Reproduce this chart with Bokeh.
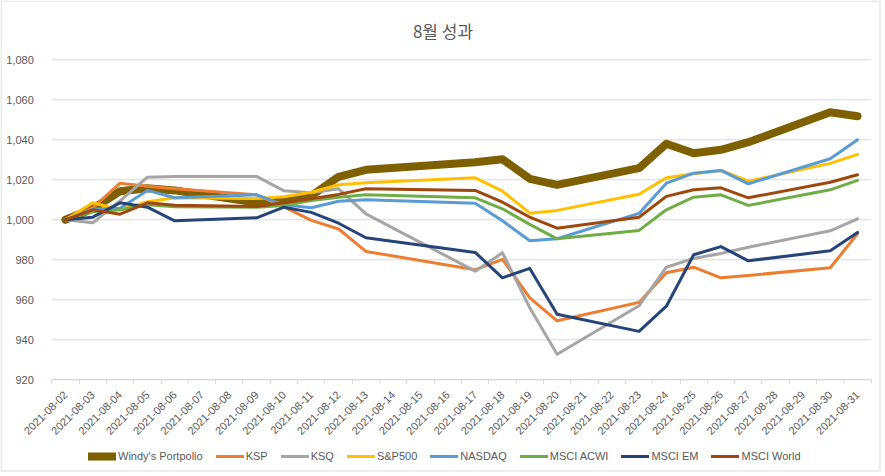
from math import pi
import pandas as pd
from bokeh.plotting import figure
from bokeh.models import (ColumnDataSource, FixedTicker, NumeralTickFormatter,
                          Legend, LegendItem, Range1d, Label)
from bokeh.embed import file_html
from bokeh.resources import INLINE

title_text = "8월 성과"

axis_dates = ["2021-08-02", "2021-08-03", "2021-08-04", "2021-08-05", "2021-08-06",
              "2021-08-07", "2021-08-08", "2021-08-09", "2021-08-10", "2021-08-11",
              "2021-08-12", "2021-08-13", "2021-08-14", "2021-08-15", "2021-08-16",
              "2021-08-17", "2021-08-18", "2021-08-19", "2021-08-20", "2021-08-21",
              "2021-08-22", "2021-08-23", "2021-08-24", "2021-08-25", "2021-08-26",
              "2021-08-27", "2021-08-28", "2021-08-29", "2021-08-30", "2021-08-31"]

trade_dates = ["2021-08-02", "2021-08-03", "2021-08-04", "2021-08-05", "2021-08-06",
               "2021-08-09", "2021-08-10", "2021-08-11", "2021-08-12", "2021-08-13",
               "2021-08-17", "2021-08-18", "2021-08-19", "2021-08-20", "2021-08-23",
               "2021-08-24", "2021-08-25", "2021-08-26", "2021-08-27", "2021-08-30",
               "2021-08-31"]

windy = [1000, 1005.5, 1014.3, 1015.8, 1014.7, 1008.6, 1009, 1012, 1021.5, 1025,
         1028.8, 1030.3, 1020.5, 1017.5, 1025.8, 1038, 1033.3, 1035, 1038.8, 1053.8, 1051.8]
ksp = [1000, 1006, 1018.3, 1016.8, 1015.5, 1012.5, 1006.5, 999.7, 995.4, 984.2,
       975, 980.2, 961, 949.5, 958.7, 973.5, 976.3, 971, 972.2, 976, 993]
ksq = [1000, 998.5, 1009.5, 1021.3, 1021.6, 1021.7, 1014.5, 1013.5, 1015.5, 1003,
       974.3, 983.5, 956, 932.8, 957, 976.3, 980.7, 983.2, 986.3, 994.5, 1000.5]
sp500 = [1000, 1008.5, 1005, 1009, 1011, 1010.7, 1011.5, 1013.8, 1017.5, 1018.5,
         1021, 1014.3, 1003.3, 1004.7, 1012.8, 1021, 1023, 1024.7, 1019.3, 1028.2, 1032.7]
nasdaq = [1000, 1005.3, 1005.8, 1014.7, 1011, 1012.5, 1007.5, 1006, 1009.3, 1010,
          1008.3, 999.5, 989.5, 990.5, 1003.2, 1018.3, 1023.3, 1024.7, 1018, 1030.5, 1040]
acwi = [1000, 1004, 1005, 1007.5, 1006.5, 1006.3, 1007.2, 1009.7, 1011.3, 1012.5,
        1011, 1005.5, 997.7, 990.5, 994.7, 1005, 1011.3, 1012.5, 1007.2, 1015, 1019.7]
em = [1000, 1001.3, 1008.5, 1006.3, 999.5, 1001, 1006.3, 1003.7, 998.3, 991,
      983.7, 971, 975.7, 952.8, 944.2, 956.8, 982.5, 986.6, 979.5, 984.5, 993.7]
world = [1000, 1005, 1002.8, 1008.5, 1007.3, 1006.7, 1008.5, 1010.5, 1012.7, 1015.5,
         1014.7, 1008.8, 1001.3, 995.8, 1001.3, 1011.7, 1015, 1016, 1011, 1018.8, 1022.5]

series_names = ["Windy's Portpolio", "KSP", "KSQ", "S&P500", "NASDAQ",
                "MSCI ACWI", "MSCI EM", "MSCI World"]
series_values = [windy, ksp, ksq, sp500, nasdaq, acwi, em, world]
series_colors = ["#7F6000", "#ED7D31", "#A5A5A5", "#FFC000", "#5B9BD5",
                 "#70AD47", "#264478", "#9E480E"]
series_widths = [8, 3, 3, 3, 3, 3, 3, 3]

y_ticks = [920, 940, 960, 980, 1000, 1020, 1040, 1060, 1080]

start = pd.Timestamp(axis_dates[0])
x_pos = [(pd.Timestamp(d) - start).days for d in trade_dates]

FONT = "Liberation Sans"
GREY = "#595959"
LINE_GREY = "#d9d9d9"

# ---- layout (pixels): the frame covers the whole canvas, the plot area sits inside it
W, H = 885, 476
PA_L, PA_R = 51.3, 870.7        # plot area left/right
PA_T, PA_B = 59.3, 379.3        # plot area top/bottom
n = len(axis_dates)
ppx = (PA_R - PA_L) / n                      # pixels per day
x_lo = -0.5 - PA_L / ppx
x_hi = (n - 0.5) + (W - PA_R) / ppx
ppy = (PA_B - PA_T) / (y_ticks[-1] - y_ticks[0])   # pixels per unit
y_hi = y_ticks[-1] + PA_T / ppy
y_lo = y_ticks[0] - (H - PA_B) / ppy

def px_x(px):
    return x_lo + px / ppx

def px_y(py):
    return y_hi - py / ppy

p = figure(width=W, height=H, output_backend="svg", toolbar_location=None,
           x_range=Range1d(x_lo, x_hi), y_range=Range1d(y_lo, y_hi),
           min_border_left=0, min_border_right=0, min_border_top=0, min_border_bottom=0)
p.outline_line_color = None
p.background_fill_color = "white"
p.border_fill_color = "white"
p.xgrid.grid_line_color = None
p.ygrid.grid_line_color = None

# chart-area border
p.quad(left=[px_x(0.5)], right=[px_x(879.5)], top=[px_y(0.5)], bottom=[px_y(470.5)],
       fill_color=None, line_color=LINE_GREY, line_width=1)

# horizontal gridlines across the plot area
p.segment(x0=[-0.5] * len(y_ticks), x1=[n - 0.5] * len(y_ticks), y0=y_ticks, y1=y_ticks,
          line_color=LINE_GREY, line_width=1)

# x axis drawn at the bottom of the value range
p.xaxis.fixed_location = y_ticks[0]
p.xaxis.bounds = (-0.5, n - 0.5)
p.xaxis.ticker = FixedTicker(ticks=list(range(n)),
                             minor_ticks=[i - 0.5 for i in range(n + 1)])
p.xaxis.major_label_overrides = {i: d for i, d in enumerate(axis_dates)}
p.xaxis.major_label_orientation = pi / 4
p.xaxis.major_tick_line_color = None
p.xaxis.minor_tick_line_color = LINE_GREY
p.xaxis.minor_tick_out = 4
p.xaxis.minor_tick_in = 0
p.xaxis.axis_line_color = LINE_GREY
p.xaxis.major_label_text_font = FONT
p.xaxis.major_label_text_font_size = "11px"
p.xaxis.major_label_text_color = GREY
p.xaxis.major_label_standoff = 7

# y axis drawn at the left edge of the plot area
p.yaxis.fixed_location = -0.5
p.yaxis.ticker = FixedTicker(ticks=y_ticks)
p.yaxis.formatter = NumeralTickFormatter(format="0,0")
p.yaxis.axis_line_color = None
p.yaxis.major_tick_line_color = None
p.yaxis.minor_tick_line_color = None
p.yaxis.major_label_text_font = FONT
p.yaxis.major_label_text_font_size = "11px"
p.yaxis.major_label_text_color = GREY
p.yaxis.major_label_standoff = 12

items = []
for name, vals, col, w in zip(series_names, series_values, series_colors, series_widths):
    src = ColumnDataSource(dict(x=x_pos, y=vals))
    r = p.line("x", "y", source=src, line_color=col, line_width=w,
               line_join="round", line_cap="round")
    items.append(LegendItem(label=name, renderers=[r]))

legend = Legend(items=items, orientation="horizontal", location=(88, 14),
                label_text_font=FONT, label_text_font_size="11px", label_text_color=GREY,
                glyph_width=28, glyph_height=12, label_standoff=2, spacing=13,
                padding=0, margin=0, background_fill_alpha=0, border_line_color=None)
p.add_layout(legend)

title = Label(x=442.5, y=H - 30, x_units="screen", y_units="screen", text=title_text,
              text_font="Noto Sans CJK KR", text_font_size="17px", text_color=GREY,
              text_align="center", text_baseline="middle")
p.add_layout(title)

open("out.html", "w").write(file_html(p, INLINE))
